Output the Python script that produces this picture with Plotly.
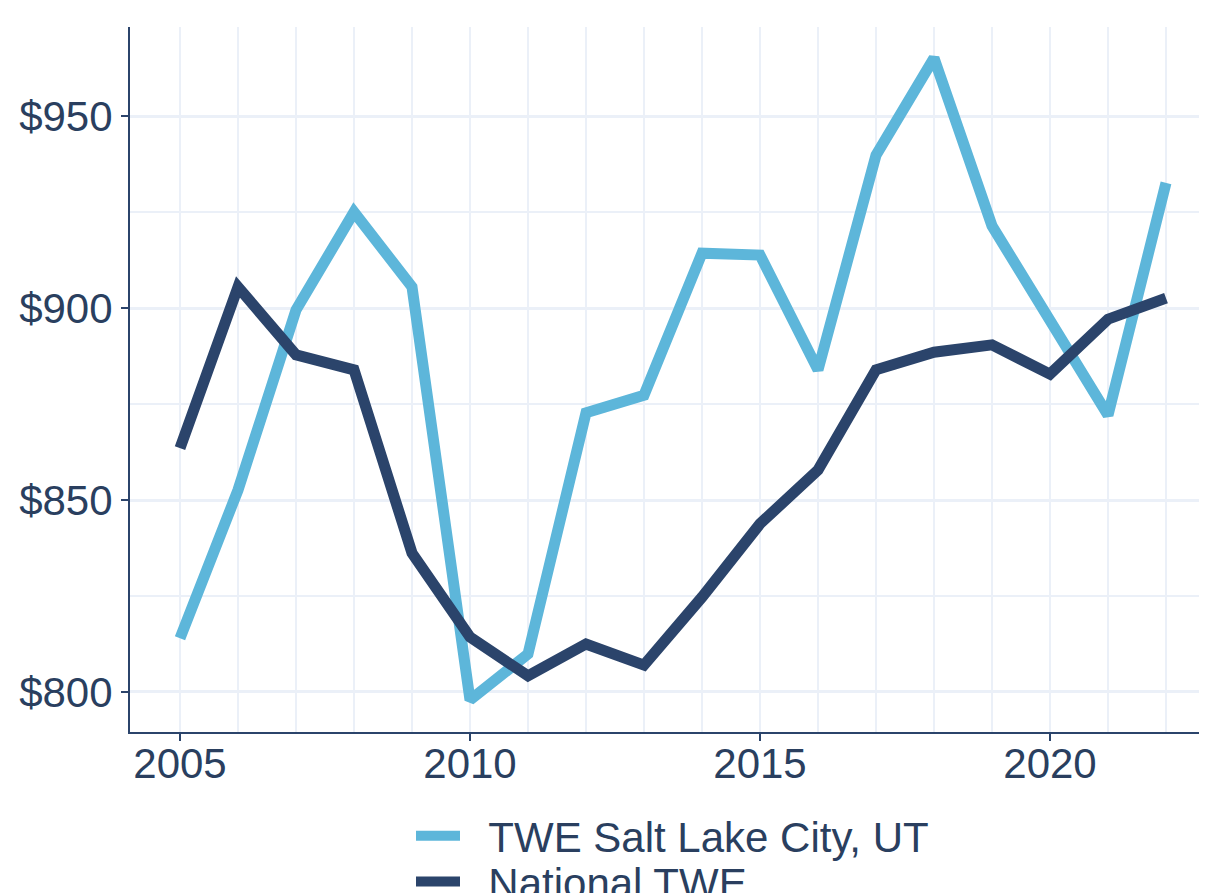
import plotly.graph_objects as go

years = list(range(2005, 2023))
slc_twe = [814.0, 852.6, 899.5, 925.0, 905.5, 797.9, 809.9, 872.7, 877.3, 914.3,
           913.8, 883.9, 939.8, 965.1, 921.4, 897.4, 872.1, 932.6]
national_twe = [863.5, 905.5, 887.8, 883.9, 836.2, 814.3, 804.2, 812.5, 807.0, 824.7,
                843.8, 857.8, 883.9, 888.5, 890.4, 882.8, 897.1, 902.6]
series_names = ["TWE Salt Lake City, UT", "National TWE"]
y_ticks = [800, 850, 900, 950]
y_tick_labels = ["$800", "$850", "$900", "$950"]
x_ticks = [2005, 2010, 2015, 2020]

LIGHT = "#5db6da"
DARK = "#2b446b"
TEXT = "#2a3f5f"
GRID = "#ebf0f8"
PAD = "\u00a0\u00a0"

fig = go.Figure()
fig.add_trace(go.Scatter(x=years, y=slc_twe, mode="lines", name=PAD + series_names[0],
                         line=dict(color=LIGHT, width=11), legend="legend"))
fig.add_trace(go.Scatter(x=years, y=national_twe, mode="lines", name=PAD + series_names[1],
                         line=dict(color=DARK, width=11), legend="legend2"))

W = 1208
legend_common = dict(orientation="v", xanchor="left", yanchor="middle",
                     xref="container", yref="container", itemwidth=44,
                     font=dict(size=42, color=TEXT, family="Liberation Sans, Arial"),
                     bgcolor="rgba(0,0,0,0)")

fig.update_layout(
    width=W, height=885,
    margin=dict(l=122, r=0, t=19, b=161, autoexpand=False),
    plot_bgcolor="white", paper_bgcolor="white",
    font=dict(family="Liberation Sans, Arial", size=42, color=TEXT),
    showlegend=True,
    legend=dict(x=403 / W, y=0.0644, **legend_common),
    legend2=dict(x=403 / W, y=0.0128, **legend_common),
    xaxis=dict(range=[2004.138, 2004.138 + (W - 122) / 58.0], tickmode="array", tickvals=x_ticks,
               ticks="outside", ticklen=7, tickwidth=2, tickcolor=DARK, automargin=False,
               ticklabelstandoff=-13,
               showline=True, linecolor=DARK, linewidth=2,
               showgrid=True, gridcolor=GRID, gridwidth=2,
               minor=dict(dtick=1, tick0=2005, showgrid=True, gridcolor=GRID, gridwidth=2),
               zeroline=False, tickfont=dict(size=42, color=TEXT)),
    yaxis=dict(range=[789.58, 973.2], tickmode="array", tickvals=y_ticks, ticktext=y_tick_labels,
               ticks="outside", ticklen=7, tickwidth=2, tickcolor=DARK, automargin=False,
               showline=True, linecolor=DARK, linewidth=2,
               showgrid=True, gridcolor=GRID, gridwidth=3,
               minor=dict(dtick=25, tick0=800, showgrid=True, gridcolor=GRID, gridwidth=2),
               zeroline=False, tickfont=dict(size=42, color=TEXT)),
)

fig.write_html("out.html")
